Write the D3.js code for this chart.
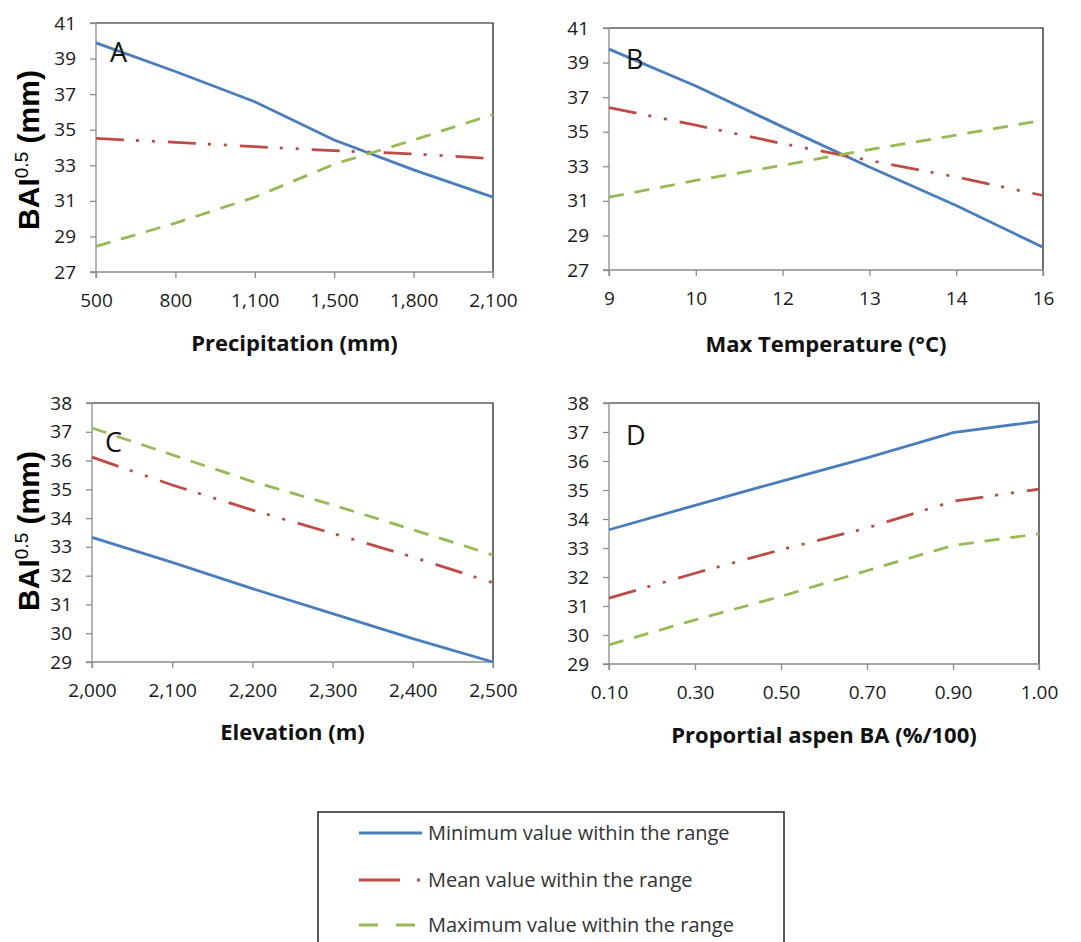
<!DOCTYPE html>
<html lang="en">
<head>
    <meta charset="UTF-8">
    <title>BAI response curves</title>
    <script src="https://d3js.org/d3.v7.min.js"></script>
    <style>
        body {
            margin: 0;
            background: #fff;
            font-family: "Open Sans", Arial, sans-serif;
        }
    </style>
</head>
<body>
    <div class="chart"></div>

    <script>
        // Values
        const precipCats = ["500", "800", "1,100", "1,500", "1,800", "2,100"];
        const precipMin = [39.88, 38.27, 36.57, 34.42, 32.74, 31.21];
        const precipMean = [34.51, 34.29, 34.05, 33.82, 33.64, 33.37];
        const precipMax = [28.44, 29.75, 31.21, 33.06, 34.42, 35.86];

        const tempCats = ["9", "10", "12", "13", "14", "16"];
        const tempMin = [39.78, 37.65, 35.28, 32.96, 30.73, 28.31];
        const tempMean = [36.39, 35.38, 34.31, 33.34, 32.38, 31.31];
        const tempMax = [31.21, 32.18, 33.06, 33.97, 34.80, 35.67];

        const elevCats = ["2,000", "2,100", "2,200", "2,300", "2,400", "2,500"];
        const elevMin = [33.33, 32.46, 31.55, 30.68, 29.81, 29.0];
        const elevMean = [36.12, 35.15, 34.28, 33.47, 32.65, 31.75];
        const elevMax = [37.13, 36.2, 35.27, 34.46, 33.6, 32.72];

        const aspenCats = ["0.10", "0.30", "0.50", "0.70", "0.90", "1.00"];
        const aspenMin = [33.63, 34.47, 35.30, 36.11, 36.98, 37.37];
        const aspenMean = [31.27, 32.13, 32.94, 33.69, 34.61, 35.03];
        const aspenMax = [29.66, 30.52, 31.33, 32.22, 33.09, 33.49];

        const ticksTop = [27, 29, 31, 33, 35, 37, 39, 41];
        const ticksBottom = [29, 30, 31, 32, 33, 34, 35, 36, 37, 38];

        const seriesNames = ["Minimum value within the range", "Mean value within the range", "Maximum value within the range"];
        const colors = ["#4a7ebb", "#be4b48", "#98b954"];
        const dashes = [null, "28,12,3,13,3,13", "15,11"];
        const legendDashes = [null, "41,17,3,80", "19,18"];

        const svg = d3.select('.chart')
            .append('svg')
            .attr('width', 1081)
            .attr('height', 942);

        const panels = [
            { cats: precipCats, series: [precipMin, precipMean, precipMax], ticks: ticksTop,
              x0: 96, x1: 493, y0: 23, y1: 272, letter: "A", lx: 110, ly: 62,
              xTitle: "Precipitation (mm)", xTitleY: 351, yTitle: true, yTitleY: 150 },
            { cats: tempCats, series: [tempMin, tempMean, tempMax], ticks: ticksTop,
              x0: 609, x1: 1043, y0: 28, y1: 270, letter: "B", lx: 626, ly: 69,
              xTitle: "Max Temperature (°C)", xTitleY: 352, yTitle: false },
            { cats: elevCats, series: [elevMin, elevMean, elevMax], ticks: ticksBottom,
              x0: 92, x1: 493, y0: 403, y1: 662, letter: "C", lx: 105, ly: 452,
              xTitle: "Elevation (m)", xTitleY: 740, yTitle: true, yTitleY: 531 },
            { cats: aspenCats, series: [aspenMin, aspenMean, aspenMax], ticks: ticksBottom,
              x0: 609, x1: 1039, y0: 403, y1: 664, letter: "D", lx: 626, ly: 445,
              xTitle: "Proportial aspen BA (%/100)", xTitleY: 743, yTitle: false }
        ];

        panels.forEach(p => {
            const xScale = d3.scalePoint()
                .domain(p.cats)
                .range([p.x0, p.x1]);

            const yScale = d3.scaleLinear()
                .domain([p.ticks[0], p.ticks[p.ticks.length - 1]])
                .range([p.y1, p.y0]);

            // plot area frame (top and right edges are dark)
            svg.append('path')
                .attr('d', `M${p.x0},${p.y0}H${p.x1}V${p.y1}`)
                .attr('fill', 'none')
                .attr('stroke', '#111')
                .attr('stroke-width', 1.2);

            const yAxis = svg.append('g')
                .attr('transform', `translate(${p.x0},0)`)
                .call(d3.axisLeft(yScale).tickValues(p.ticks).tickSize(6).tickPadding(14));

            const xAxis = svg.append('g')
                .attr('transform', `translate(0,${p.y1})`)
                .call(d3.axisBottom(xScale).tickSize(6).tickPadding(16));

            [yAxis, xAxis].forEach(ax => {
                ax.select('.domain').attr('stroke', '#8c8c8c').attr('stroke-width', 1.3);
                ax.selectAll('.tick line').attr('stroke', '#8c8c8c').attr('stroke-width', 1.3);
                ax.selectAll('.tick text')
                    .attr('font-family', '"Open Sans", sans-serif')
                    .attr('font-size', 19)
                    .attr('fill', '#1a1a1a');
            });
            yAxis.select('.domain').attr('d', `M-6,${p.y0}H0V${p.y1}H-6`);
            xAxis.select('.domain').attr('d', `M${p.x0},6V0H${p.x1}V6`);

            const line = d3.line()
                .x((d, i) => xScale(p.cats[i]))
                .y(d => yScale(d));

            p.series.forEach((s, i) => {
                svg.append('path')
                    .datum(s)
                    .attr('d', line)
                    .attr('fill', 'none')
                    .attr('stroke', colors[i])
                    .attr('stroke-width', 2.8)
                    .attr('stroke-dasharray', dashes[i]);
            });

            svg.append('text')
                .attr('x', p.lx)
                .attr('y', p.ly)
                .attr('font-size', 27)
                .attr('fill', '#111')
                .text(p.letter);

            svg.append('text')
                .attr('x', (p.x0 + p.x1) / 2)
                .attr('y', p.xTitleY)
                .attr('text-anchor', 'middle')
                .attr('font-size', 22)
                .attr('font-weight', 'bold')
                .attr('fill', '#111')
                .text(p.xTitle);

            if (p.yTitle) {
                const t = svg.append('text')
                    .attr('transform', `translate(39,${p.yTitleY}) rotate(-90)`)
                    .attr('text-anchor', 'middle')
                    .attr('font-family', '"Liberation Sans", Arial, sans-serif')
                    .attr('font-size', 30)
                    .attr('font-weight', 'bold')
                    .attr('fill', '#000');
                t.append('tspan').text('BAI');
                t.append('tspan').attr('dy', -11).attr('font-size', 19).attr('font-weight', 'normal').text('0.5');
                t.append('tspan').attr('dy', 11).text(' (mm)');
            }
        });

        // legend box
        svg.append('rect')
            .attr('x', 318)
            .attr('y', 812)
            .attr('width', 466)
            .attr('height', 150)
            .attr('fill', '#fff')
            .attr('stroke', '#222')
            .attr('stroke-width', 1.5);

        const legendRows = [833, 880, 925];
        seriesNames.forEach((name, i) => {
            svg.append('line')
                .attr('x1', 359)
                .attr('x2', 422)
                .attr('y1', legendRows[i])
                .attr('y2', legendRows[i])
                .attr('stroke', colors[i])
                .attr('stroke-width', 2.8)
                .attr('stroke-dasharray', legendDashes[i]);
            svg.append('text')
                .attr('x', 428)
                .attr('y', legendRows[i] + 7)
                .attr('font-size', 20)
                .attr('fill', '#333')
                .text(name);
        });
    </script>
</body>
</html>
